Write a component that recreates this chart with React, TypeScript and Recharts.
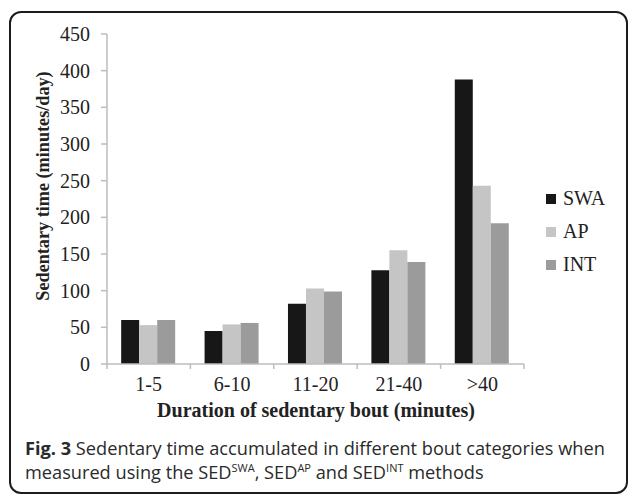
import React from 'react';
import { BarChart, Bar, XAxis, YAxis, Label } from 'recharts';

const categories = ['1-5', '6-10', '11-20', '21-40', '>40'];
const swaValues = [60, 45, 82, 128, 388];
const apValues = [53, 54, 103, 155, 243];
const intValues = [60, 56, 99, 139, 192];
const yTicks = [0, 50, 100, 150, 200, 250, 300, 350, 400, 450];
const seriesNames = ['SWA', 'AP', 'INT'];
const seriesColors = ['#171717', '#c4c5c4', '#9a9b9a'];

const data = categories.map((c, i) => ({
  name: c,
  SWA: swaValues[i],
  AP: apValues[i],
  INT: intValues[i],
}));

const SERIF = '"Liberation Serif", "Times New Roman", serif';
const AXIS_COLOR = '#bdbdbd';
const TEXT_COLOR = '#222';

const XTick = (props: any) => {
  const { x, y, payload, index, visibleTicksCount } = props;
  const half = payload && payload.offset ? payload.offset : 41.7;
  const y0 = y - 13;
  const last = index === (visibleTicksCount ?? categories.length) - 1;
  return (
    <g>
      <line x1={x - half} x2={x - half} y1={y0} y2={y0 + 5} stroke={AXIS_COLOR} strokeWidth={1.5} />
      {last && <line x1={x + half} x2={x + half} y1={y0} y2={y0 + 5} stroke={AXIS_COLOR} strokeWidth={1.5} />}
      <text x={x} y={y} dy="0.71em" textAnchor="middle" fontFamily={SERIF} fontSize={20} fill={TEXT_COLOR}>
        {payload.value}
      </text>
    </g>
  );
};

const LegendBox = () => (
  <div style={{ position: 'absolute', left: 546, top: 182, fontFamily: SERIF, fontSize: 20, color: TEXT_COLOR }}>
    {seriesNames.map((n, i) => (
      <div key={n} style={{ display: 'flex', alignItems: 'center', height: 33 }}>
        <span style={{ display: 'inline-block', width: 10, height: 10, background: seriesColors[i], marginRight: 7 }} />
        <span>{n}</span>
      </div>
    ))}
  </div>
);

export default function App() {
  return (
    <div style={{ position: 'absolute', left: 0, top: 0, width: 630, height: 494, background: '#fff', overflow: 'hidden' }}>
      <div
        style={{
          position: 'absolute',
          left: 9,
          top: 11,
          width: 619,
          height: 483,
          border: '2px solid #1c1c1c',
          borderRadius: 12,
          boxSizing: 'border-box',
        }}
      />
      <div style={{ position: 'absolute', left: 0, top: 0 }}>
        <BarChart
          width={630}
          height={494}
          data={data}
          margin={{ top: 34, right: 106, bottom: 100, left: 0 }}
          barCategoryGap="17%"
          barGap={0}
        >
          <XAxis
            dataKey="name"
            height={30}
            tickSize={0}
            tickMargin={13}
            axisLine={{ stroke: AXIS_COLOR, strokeWidth: 1.5 }}
            tick={<XTick />}
            interval={0}
          >
            <Label
              content={() => (
                <text x={316} y={417} textAnchor="middle" fontFamily={SERIF} fontSize={20} fontWeight="bold" fill={TEXT_COLOR}>
                  Duration of sedentary bout (minutes)
                </text>
              )}
            />
          </XAxis>
          <YAxis
            width={107}
            domain={[0, 450]}
            ticks={yTicks}
            interval={0}
            tickSize={6}
            tickMargin={11}
            axisLine={{ stroke: AXIS_COLOR, strokeWidth: 1.5 }}
            tickLine={{ stroke: AXIS_COLOR, strokeWidth: 1.5 }}
            tick={{ fontFamily: SERIF, fontSize: 20, fill: TEXT_COLOR }}
          >
            <Label
              content={() => (
                <text
                  x={43}
                  y={186}
                  transform="rotate(-90 43 186)"
                  textAnchor="middle"
                  dominantBaseline="central"
                  fontFamily={SERIF}
                  fontSize={18.2}
                  fontWeight="bold"
                  fill={TEXT_COLOR}
                >
                  Sedentary time (minutes/day)
                </text>
              )}
            />
          </YAxis>
          {seriesNames.map((n, i) => (
            <Bar key={n} dataKey={n} fill={seriesColors[i]} isAnimationActive={false} />
          ))}
        </BarChart>
      </div>
      <LegendBox />
      <div
        style={{
          position: 'absolute',
          left: 25,
          top: 436,
          fontFamily: '"Open Sans", "Noto Sans", sans-serif',
          fontSize: 18.2,
          lineHeight: '24px',
          color: '#2a2a2a',
          whiteSpace: 'nowrap',
        }}
      >
        <span style={{ fontWeight: 'bold' }}>Fig. 3</span> Sedentary time accumulated in different bout categories when
        <br />
        measured using the SED<sup style={{ fontSize: 11, lineHeight: 0 }}>SWA</sup>, SED<sup style={{ fontSize: 11, lineHeight: 0 }}>AP</sup> and SED
        <sup style={{ fontSize: 11, lineHeight: 0 }}>INT</sup> methods
      </div>
    </div>
  );
}
